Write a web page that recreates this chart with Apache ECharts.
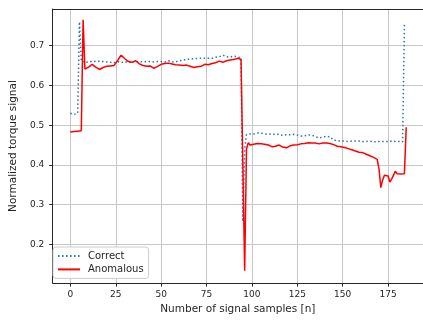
<!DOCTYPE html>
<html>
<head>
<meta charset="utf-8">
<script src="https://cdn.jsdelivr.net/npm/echarts@6/dist/echarts.min.js"></script>
<style>
html,body{margin:0;padding:0;background:#fff;}
#c{width:423px;height:320px;}
</style>
</head>
<body>
<div id="c"></div>
<script>
// Series values (sample index = array position)
const correct = [
0.530,0.530,0.527,0.527,0.530,0.760,0.660,0.657,0.659,0.661,
0.658,0.663,0.661,0.659,0.660,0.658,0.661,0.659,0.660,0.657,
0.659,0.661,0.658,0.660,0.657,0.658,0.660,0.658,0.657,0.659,
0.660,0.658,0.657,0.659,0.661,0.660,0.658,0.662,0.660,0.661,
0.659,0.657,0.660,0.662,0.660,0.661,0.659,0.661,0.660,0.662,
0.660,0.661,0.659,0.660,0.662,0.660,0.659,0.661,0.659,0.660,
0.662,0.664,0.663,0.665,0.666,0.665,0.666,0.665,0.667,0.666,
0.668,0.667,0.668,0.667,0.668,0.669,0.668,0.669,0.668,0.670,
0.671,0.673,0.672,0.674,0.676,0.674,0.672,0.673,0.671,0.672,
0.674,0.673,0.672,0.673,0.669,0.258,0.440,0.476,0.480,0.478,
0.479,0.478,0.479,0.480,0.479,0.480,0.478,0.478,0.477,0.478,
0.476,0.477,0.476,0.477,0.476,0.477,0.475,0.474,0.475,0.476,
0.475,0.476,0.475,0.477,0.476,0.475,0.474,0.473,0.472,0.473,
0.474,0.475,0.476,0.475,0.472,0.471,0.470,0.468,0.469,0.470,
0.471,0.472,0.471,0.471,0.466,0.462,0.462,0.461,0.461,0.460,
0.460,0.460,0.459,0.459,0.460,0.460,0.459,0.460,0.460,0.460,
0.459,0.459,0.460,0.459,0.459,0.460,0.459,0.458,0.459,0.459,
0.460,0.459,0.459,0.459,0.460,0.459,0.459,0.460,0.459,0.459,
0.460,0.459,0.459,0.458,0.753
];
const anomalous = [
0.483,0.483,0.484,0.484,0.485,0.485,0.486,0.765,0.641,0.643,
0.646,0.650,0.653,0.651,0.646,0.642,0.640,0.642,0.645,0.647,
0.648,0.652,0.649,0.647,0.650,0.656,0.662,0.670,0.676,0.673,
0.667,0.663,0.660,0.658,0.658,0.660,0.662,0.658,0.654,0.651,
0.650,0.652,0.648,0.646,0.649,0.645,0.643,0.646,0.648,0.649,
0.653,0.656,0.655,0.653,0.656,0.658,0.654,0.651,0.652,0.649,
0.651,0.652,0.650,0.650,0.651,0.649,0.648,0.647,0.645,0.645,
0.647,0.646,0.648,0.651,0.653,0.654,0.652,0.653,0.655,0.654,
0.657,0.662,0.661,0.659,0.658,0.660,0.662,0.661,0.664,0.663,
0.665,0.667,0.668,0.665,0.666,0.400,0.134,0.440,0.456,0.450,
0.448,0.452,0.456,0.454,0.452,0.453,0.451,0.452,0.449,0.450,
0.448,0.446,0.445,0.447,0.449,0.450,0.447,0.445,0.444,0.443,
0.446,0.448,0.449,0.450,0.451,0.451,0.452,0.453,0.452,0.454,
0.455,0.456,0.456,0.455,0.456,0.455,0.454,0.453,0.454,0.455,
0.454,0.455,0.456,0.454,0.452,0.451,0.449,0.447,0.445,0.446,
0.445,0.444,0.443,0.441,0.440,0.438,0.437,0.435,0.434,0.432,
0.431,0.431,0.430,0.427,0.424,0.423,0.422,0.419,0.416,0.414,
0.390,0.343,0.362,0.374,0.377,0.372,0.357,0.365,0.370,0.384,
0.378,0.376,0.377,0.377,0.378,0.495
];
const xTicks = [0, 25, 50, 75, 100, 125, 150, 175];
const yTicks = [0.2, 0.3, 0.4, 0.5, 0.6, 0.7];
const seriesNames = ['Correct', 'Anomalous'];
const xTitle = 'Number of signal samples [n]';
const yTitle = 'Normalized torque signal';

const toPairs = arr => arr.map((v, i) => [i, v]);
const FONT = 'DejaVu Sans';
const TXT = '#262626';
const XMIN = -9.74, XMAX = 194.24;

const chart = echarts.init(document.getElementById('c'), null, {renderer: 'canvas'});
chart.setOption({
  animation: false,
  backgroundColor: '#fff',
  grid: {left: 48, top: 9, right: -2, bottom: 32, show: false, containLabel: false},
  xAxis: [{
    type: 'value', min: XMIN, max: XMAX,
    name: xTitle, nameLocation: 'middle', nameGap: 18.5,
    nameTextStyle: {fontFamily: FONT, fontSize: 10.5, color: TXT},
    axisLine: {show: true, onZero: false, lineStyle: {color: '#262626', width: 1}},
    axisTick: {show: true, inside: false, length: 3.5, customValues: xTicks, lineStyle: {color: '#262626', width: 1}},
    axisLabel: {customValues: xTicks, margin: 7, fontFamily: FONT, fontSize: 9, color: TXT},
    splitLine: {show: true, lineStyle: {color: '#c6c6c6', width: 1}}
  }, {
    type: 'value', min: XMIN, max: XMAX, position: 'top',
    axisLine: {show: true, onZero: false, lineStyle: {color: '#262626', width: 1}},
    axisTick: {show: false}, axisLabel: {show: false}, splitLine: {show: false}
  }],
  yAxis: {
    type: 'value', min: 0.1029, max: 0.7921,
    name: yTitle, nameLocation: 'middle', nameGap: 28, nameRotate: 90,
    nameTextStyle: {fontFamily: FONT, fontSize: 10.5, color: TXT},
    axisLine: {show: true, onZero: false, lineStyle: {color: '#262626', width: 1}},
    axisTick: {show: true, inside: false, length: 3.5, customValues: yTicks, lineStyle: {color: '#262626', width: 1}},
    axisLabel: {customValues: yTicks, margin: 8.5, fontFamily: FONT, fontSize: 9, color: TXT, formatter: v => v.toFixed(1)},
    splitLine: {show: true, lineStyle: {color: '#c6c6c6', width: 1}}
  },
  legend: {
    orient: 'vertical', left: 53, top: 247,
    padding: [4, 5, 4, 4], itemGap: 3.4, itemWidth: 22, itemHeight: 12,
    backgroundColor: 'rgba(255,255,255,0.85)', borderColor: '#cccccc', borderWidth: 1, borderRadius: 3,
    itemStyle: {opacity: 0, color: 'transparent', borderWidth: 0},
    textStyle: {fontFamily: FONT, fontSize: 10, color: TXT, padding: [0, 0, 0, 3]},
    data: seriesNames
  },
  series: [
    {
      name: seriesNames[0], type: 'line', data: toPairs(correct),
      symbol: 'none', showSymbol: false, z: 2,
      lineStyle: {color: '#1f77b4', width: 1.5, type: [1.5, 2.5], cap: 'butt'},
      itemStyle: {color: '#1f77b4'}
    },
    {
      name: seriesNames[1], type: 'line', data: toPairs(anomalous),
      symbol: 'none', showSymbol: false, z: 3,
      lineStyle: {color: '#ff0000', width: 1.5},
      itemStyle: {color: '#ff0000'}
    }
  ]
});
</script>
</body>
</html>
